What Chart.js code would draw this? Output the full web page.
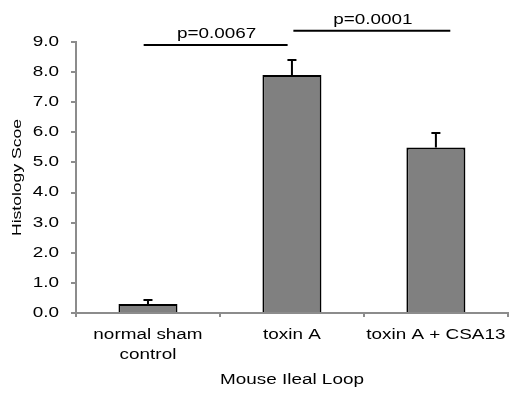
<!DOCTYPE html>
<html>
<head>
<meta charset="utf-8">
<script src="https://cdn.jsdelivr.net/npm/chart.js@4/dist/chart.umd.min.js"></script>
<style>
  html, body { margin: 0; padding: 0; background: #fff; }
</style>
</head>
<body>
<canvas id="histoChart" width="514" height="393"></canvas>
<script>
const categories = [['normal sham', 'control'], 'toxin A', 'toxin A + CSA13'];
const scores = [0.3, 7.9, 5.5];
const errors = [0.13, 0.5, 0.48];
const yTicks = [0, 1, 2, 3, 4, 5, 6, 7, 8, 9];

// significance brackets (x in category units, y in score units)
const bracketLabels = ['p=0.0067', 'p=0.0001'];
const bracketStarts = [-0.03, 1.01];
const bracketEnds = [0.97, 2.1];
const bracketLevels = [8.9, 9.37];

const FONT = "'Liberation Sans', Arial, sans-serif";
const STRETCH = 1.35; // the original text is horizontally widened

const canvas = document.getElementById('histoChart');
const ctx = canvas.getContext('2d');

// widen all text glyphs to look like the source figure
const origFill = ctx.fillText.bind(ctx);
const origMeasure = ctx.measureText.bind(ctx);
ctx.fillText = function (text, x, y) {
  this.save();
  this.translate(x, y);
  this.scale(STRETCH, 1);
  origFill(text, 0, 0);
  this.restore();
};
ctx.measureText = function (text) {
  const m = origMeasure(text);
  return {
    width: m.width * STRETCH,
    actualBoundingBoxAscent: m.actualBoundingBoxAscent,
    actualBoundingBoxDescent: m.actualBoundingBoxDescent,
    actualBoundingBoxLeft: m.actualBoundingBoxLeft * STRETCH,
    actualBoundingBoxRight: m.actualBoundingBoxRight * STRETCH
  };
};

const errorBars = {
  id: 'errorBars',
  afterDatasetsDraw(chart) {
    const c = chart.ctx;
    const y = chart.scales.y;
    const meta = chart.getDatasetMeta(0);
    c.save();
    c.strokeStyle = '#000';
    c.lineWidth = 2;
    meta.data.forEach((bar, i) => {
      const top = y.getPixelForValue(scores[i] + errors[i]);
      c.beginPath();
      c.moveTo(bar.x, bar.y);
      c.lineTo(bar.x, top);
      c.moveTo(bar.x - 4.5, top);
      c.lineTo(bar.x + 4.5, top);
      c.stroke();
    });
    c.restore();
  }
};

const brackets = {
  id: 'brackets',
  afterDraw(chart) {
    const c = chart.ctx;
    const x = chart.scales.x;
    const y = chart.scales.y;
    c.save();
    c.strokeStyle = '#000';
    c.fillStyle = '#000';
    c.lineWidth = 2;
    c.font = '14px ' + FONT;
    c.textAlign = 'center';
    c.textBaseline = 'alphabetic';
    bracketLabels.forEach((label, i) => {
      const x0 = x.getPixelForValue(bracketStarts[i]);
      const x1 = x.getPixelForValue(bracketEnds[i]);
      const py = y.getPixelForValue(bracketLevels[i]);
      c.beginPath();
      c.moveTo(x0, py);
      c.lineTo(x1, py);
      c.stroke();
      c.fillText(label, (x0 + x1) / 2 + 1, py - 7);
    });
    c.restore();
  }
};

new Chart(canvas, {
  type: 'bar',
  data: {
    labels: categories,
    datasets: [{
      data: scores,
      backgroundColor: '#808080',
      borderColor: '#000',
      borderWidth: 2,
      borderSkipped: 'bottom',
      categoryPercentage: 1,
      barPercentage: 0.41
    }]
  },
  options: {
    responsive: false,
    animation: false,
    layout: { padding: { top: 42, right: 3, left: 0, bottom: 0 } },
    plugins: {
      legend: { display: false },
      tooltip: { enabled: false }
    },
    scales: {
      x: {
        afterFit(scale) { scale.height = 80; },
        border: { color: '#8c8c8c', width: 2 },
        grid: {
          offset: true,
          drawOnChartArea: false,
          color: '#8c8c8c',
          lineWidth: 2,
          tickLength: 4
        },
        ticks: {
          color: '#000',
          padding: 8,
          maxRotation: 0,
          autoSkip: false,
          font: { family: FONT, size: 14, lineHeight: 1.45 }
        },
        title: {
          display: true,
          text: 'Mouse Ileal Loop',
          color: '#000',
          padding: { top: 10 },
          font: { family: FONT, size: 14 }
        }
      },
      y: {
        min: 0,
        max: 9,
        afterFit(scale) { scale.width = 76; },
        afterBuildTicks(scale) { scale.ticks = yTicks.map(v => ({ value: v })); },
        border: { color: '#8c8c8c', width: 2 },
        grid: {
          drawOnChartArea: false,
          color: '#8c8c8c',
          lineWidth: 2,
          tickLength: 5
        },
        ticks: {
          color: '#000',
          padding: 12,
          font: { family: FONT, size: 14 },
          callback: v => v.toFixed(1)
        },
        title: {
          display: true,
          text: 'Histology Scoe',
          color: '#000',
          padding: { top: 10, bottom: 0 },
          font: { family: FONT, size: 13 }
        }
      }
    }
  },
  plugins: [errorBars, brackets]
});
</script>
</body>
</html>
